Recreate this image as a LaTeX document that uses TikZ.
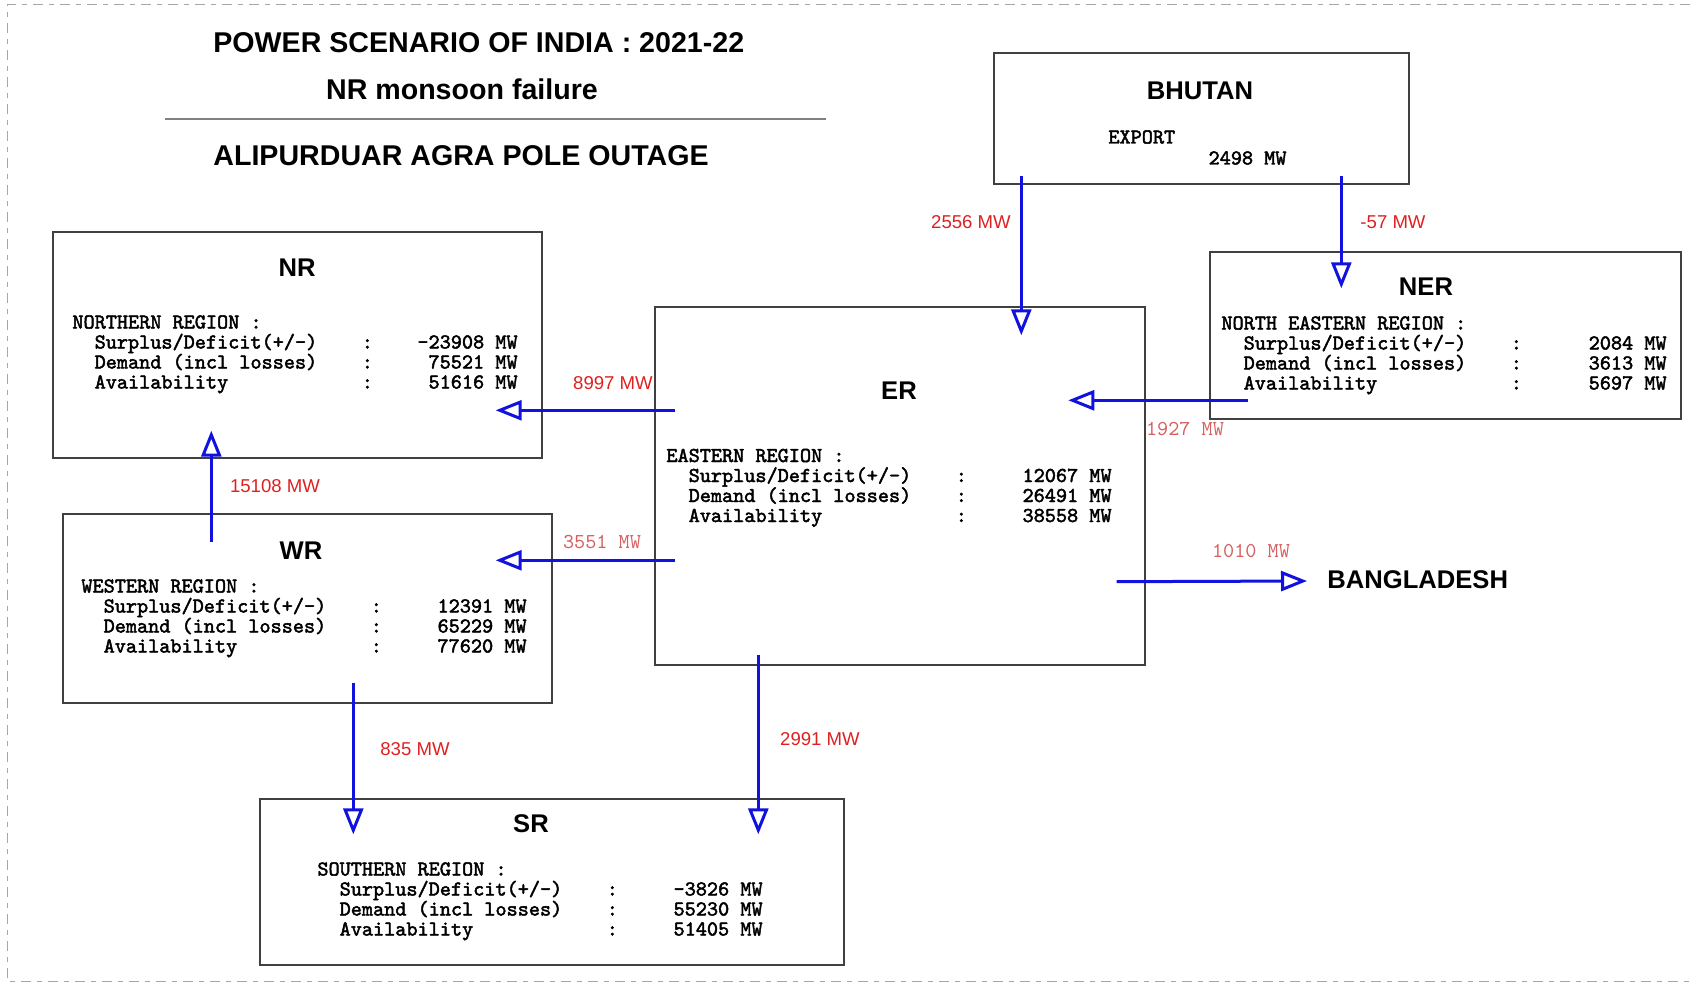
\documentclass[tikz,border=0pt]{standalone}
\usepackage{fontspec}
\setsansfont{Liberation Sans}
\newfontfamily\boxmono{lmmono10-regular.otf}[FakeBold=2.2]
\usetikzlibrary{arrows.meta}
\definecolor{flowblue}{RGB}{18,18,222}
\definecolor{flowred}{RGB}{222,32,32}
\definecolor{softred}{RGB}{214,96,96}
\definecolor{boxgrey}{RGB}{64,64,64}
\newlength{\chw}
\newcommand{\regionrow}[2]{\makebox[26\chw][l]{\hspace*{2\chw}#1}:\makebox[13\chw][r]{#2 MW}}
\newcommand{\regiontext}[4]{%
 \settowidth{\chw}{0}%
 \vtop{\baselineskip=10pt\lineskiplimit=-\maxdimen
 \hbox{#1 :}
 \hbox{\regionrow{Surplus/Deficit(+/-)}{#2}}
 \hbox{\regionrow{Demand (incl losses)}{#3}}
 \hbox{\regionrow{Availability}{#4}}}}
\newcommand{\exporttext}[1]{%
 \settowidth{\chw}{0}%
 \vtop{\baselineskip=10.5pt\lineskiplimit=-\maxdimen
 \hbox{EXPORT}
 \hbox{\hspace*{9\chw}#1 MW}}}
\tikzset{
 regionbox/.style={
 rectangle,
 draw=boxgrey,
 line width=0.7pt,
 inner sep=0pt
 },
 boxtitle/.style={
 font=\sffamily\bfseries\fontsize{12.8}{15}\selectfont,
 inner sep=0pt
 },
 regiondata/.style={
 anchor=base west,
 inner sep=0pt,
 font=\boxmono\fontsize{10.6}{12}\selectfont
 },
 headline/.style={
 font=\sffamily\bfseries\fontsize{14.3}{17}\selectfont,
 inner sep=0pt
 },
 flowarrow/.style={-{Triangle[open, length=13pt, width=10pt]}, line width=1.5pt, draw=flowblue},
 flowlabel/.style={font=\sffamily\fontsize{9.3}{11}\selectfont, text=flowred, inner sep=0pt},
 monolabel/.style={font=\ttfamily\fontsize{10.6}{12}\selectfont, text=softred, inner sep=0pt}
}

\begin{document}
\begin{tikzpicture}[x=0.5pt, y=-0.5pt]
 \useasboundingbox (0,0) rectangle (1690,984);
 \draw[gray!70, line width=0.5pt, dash pattern=on 5pt off 3pt on 2.5pt off 3pt] (1690,5) -- (7,5) -- (7,981) -- (1690,981);

 \node[headline, anchor=west] (head-year) at (213,43) {POWER SCENARIO OF INDIA : 2021-22};
 \node[headline] (head-case) at (462,89) {NR monsoon failure};
 \draw[gray, line width=0.6pt] (165,119) -- (826,119);
 \node[headline, anchor=west] (head-outage) at (213,156) {ALIPURDUAR AGRA POLE OUTAGE};

 \node[regionbox, minimum width=207.5pt, minimum height=65.5pt] (bhutan) at (1201.5,118.5) {};
 \node[boxtitle] (bhutan-title) at (1200,91) {BHUTAN};
 \node[regiondata] (bhutan-data) at (1108,143.5) {\exporttext{2498}};

 \node[regionbox, minimum width=244.5pt, minimum height=113pt] (nr) at (297.5,345) {};
 \node[boxtitle] (nr-title) at (297,268) {NR};
 \node[regiondata] (nr-data) at (72,328.5) {\regiontext{NORTHERN REGION}{-23908}{75521}{51616}};

 \node[regionbox, minimum width=235.5pt, minimum height=83.5pt] (ner) at (1445.5,335.5) {};
 \node[boxtitle] (ner-title) at (1426,287) {NER};
 \node[regiondata] (ner-data) at (1221,329.5) {\regiontext{NORTH EASTERN REGION}{2084}{3613}{5697}};

 \node[regionbox, minimum width=245pt, minimum height=179pt] (er) at (900,486) {};
 \node[boxtitle] (er-title) at (899,391) {ER};
 \node[regiondata] (er-data) at (666,462) {\regiontext{EASTERN REGION}{12067}{26491}{38558}};

 \node[regionbox, minimum width=244.5pt, minimum height=94.5pt] (wr) at (307.5,608.5) {};
 \node[boxtitle] (wr-title) at (301,551) {WR};
 \node[regiondata] (wr-data) at (81,592.5) {\regiontext{WESTERN REGION}{12391}{65229}{77620}};

 \node[regionbox, minimum width=292pt, minimum height=83pt] (sr) at (552,882) {};
 \node[boxtitle] (sr-title) at (531,824) {SR};
 \node[regiondata] (sr-data) at (317,875.5) {\regiontext{SOUTHERN REGION}{-3826}{55230}{51405}};

 \node[boxtitle, anchor=west] (bangladesh) at (1327,580) {BANGLADESH};

 \draw[flowarrow] ([shift={(28,-9)}]bhutan.south west) -- ([shift={(367,29)}]er.north west);
 \draw[flowarrow] ([shift={(348,-9)}]bhutan.south west) -- ([shift={(132,37)}]ner.north west);
 \draw[flowarrow] ([shift={(21,104)}]er.north west) -- ([shift={(-47,179)}]nr.north east);
 \draw[flowarrow] ([shift={(39,149)}]ner.north west) -- ([shift={(414,94)}]er.north west);
 \draw[flowarrow] ([shift={(21,254)}]er.north west) -- ([shift={(-57,47)}]wr.north east);
 \draw[flowarrow] ([shift={(149,29)}]wr.north west) -- ([shift={(159,-28)}]nr.south west);
 \draw[flowarrow] ([shift={(291,-21)}]wr.south west) -- ([shift={(94,36)}]sr.north west);
 \draw[flowarrow] ([shift={(104,-11)}]er.south west) -- ([shift={(499,36)}]sr.north west);
 \draw[flowarrow] ([shift={(-29,-84)}]er.south east) -- ([shift={(-20,1)}]bangladesh.west);

 \node[flowlabel] (lbl-bhutan-er) at (971,222) {2556 MW};
 \node[flowlabel] (lbl-bhutan-ner) at (1393,222) {-57 MW};
 \node[flowlabel] (lbl-er-nr) at (613,383) {8997 MW};
 \node[monolabel] (lbl-ner-er) at (1185,429) {1927 MW};
 \node[monolabel] (lbl-er-wr) at (602,542) {3551 MW};
 \node[flowlabel] (lbl-wr-nr) at (275,486) {15108 MW};
 \node[flowlabel] (lbl-wr-sr) at (415,749) {835 MW};
 \node[flowlabel] (lbl-er-sr) at (820,739) {2991 MW};
 \node[monolabel] (lbl-er-bd) at (1251,551) {1010 MW};
\end{tikzpicture}
\end{document}
